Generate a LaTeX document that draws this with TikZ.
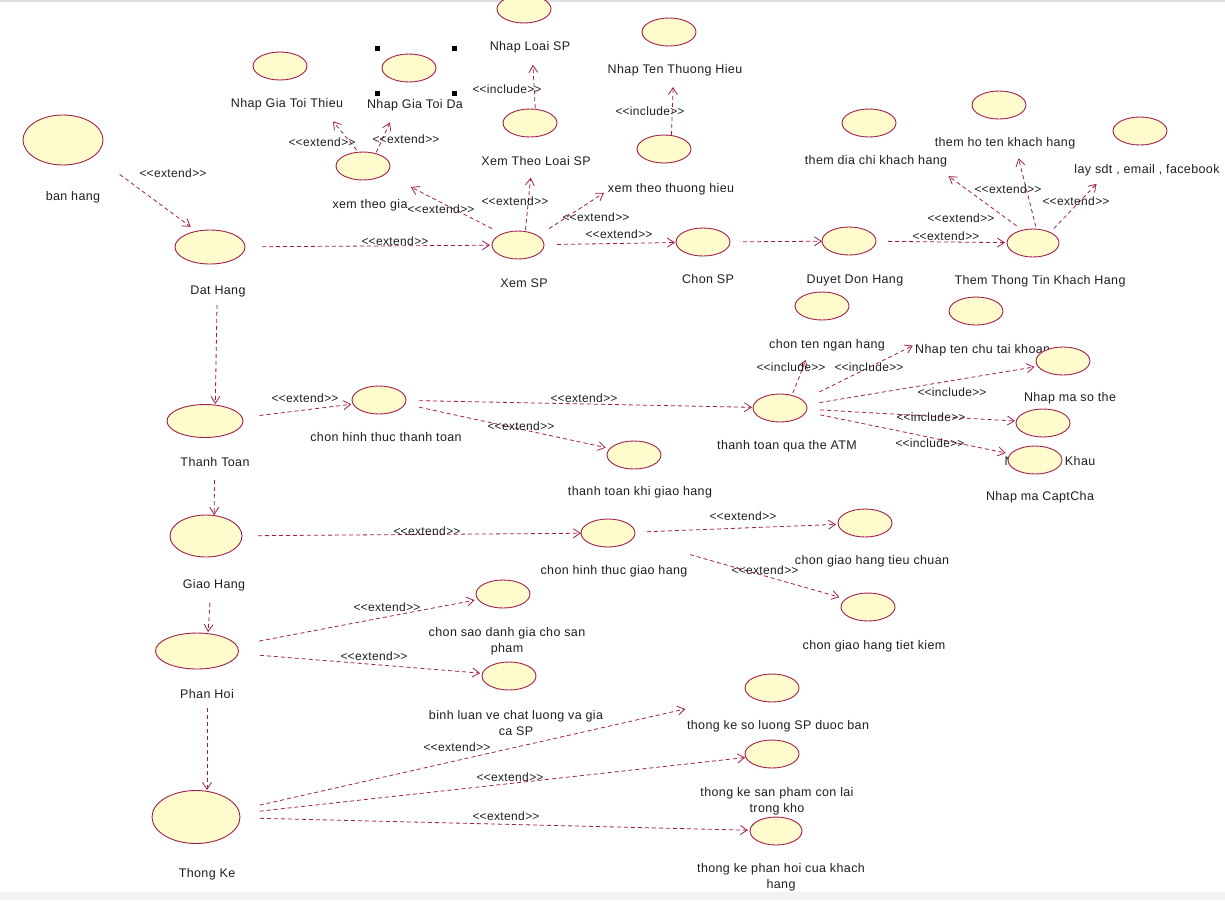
\documentclass[tikz,border=0pt]{standalone}
\usepackage{fontspec}
\setmainfont{Liberation Sans}[LetterSpace=3]
\usetikzlibrary{arrows.meta,shapes.geometric,backgrounds}
\definecolor{ucfill}{HTML}{FFFBCC}
\definecolor{ucline}{HTML}{A01E4C}
\definecolor{txt}{HTML}{1E1E1E}
% stereotype text, kerns keep the angle brackets from merging into guillemets
\newcommand\stereo[1]{<\kern0pt<#1>\kern0pt>}
\begin{document}
\begin{tikzpicture}[x=1pt,y=-1pt,
  uc/.style={ellipse, draw=ucline, fill=ucfill, line width=0.9pt,
    minimum width=54pt, minimum height=28pt, inner sep=0pt, outer sep=0pt},
  lbl/.style={font=\fontsize{12.5}{16}\selectfont, text=txt, inner sep=0pt, align=center},
  st/.style={font=\fontsize{12}{14}\selectfont, text=txt, inner sep=0pt},
  rel/.style={draw=ucline, line width=0.8pt, dash pattern=on 4pt off 3pt,
    -{Straight Barb[length=7pt,width=9pt]}},
  handle/.style={fill=black, minimum size=5pt, inner sep=0pt, outer sep=0pt}
]
\useasboundingbox (0,0) rectangle (1225,900);
\fill[black!12] (0,0) rectangle (1225,1.5);
\fill[black!5] (0,892) rectangle (1225,900);

% ---------- ordering ----------
\node[uc, minimum width=80pt, minimum height=50pt] (ban) at (63,140) {};
\node[lbl] (banL) at (73,197) {ban hang};
\node[uc, minimum width=70pt, minimum height=34pt] (dat) at (210,247) {};
\node[lbl] (datL) at (218,291) {Dat Hang};

% ---------- browsing products ----------
\node[uc] (ngtt) at (280,66) {};
\node[lbl] (ngttL) at (287,104) {Nhap Gia Toi Thieu};
\node[uc] (xtg) at (363,166) {};
\node[lbl] (xtgL) at (370,205) {xem theo gia};
\node[uc] (ngtd) at (409,68) {};
\node[lbl] (ngtdL) at (415,105) {Nhap Gia Toi Da};
\node[handle] (hd1) at (377,48) {};
\node[handle] (hd2) at (454,48) {};
\node[handle] (hd3) at (377,93) {};
\node[handle] (hd4) at (454,93) {};
\node[uc] (nls) at (524,9) {};
\node[lbl] (nlsL) at (530,47) {Nhap Loai SP};
\node[uc] (xtl) at (530,123) {};
\node[lbl] (xtlL) at (536,161) {Xem Theo Loai SP};
\node[uc] (ntth) at (669,32) {};
\node[lbl] (ntthL) at (675,70) {Nhap Ten Thuong Hieu};
\node[uc] (xtth) at (664,149) {};
\node[lbl] (xtthL) at (671,189) {xem theo thuong hieu};
\node[uc, minimum width=52pt] (xsp) at (518,245) {};
\node[lbl] (xspL) at (524,283) {Xem SP};
\node[uc] (csp) at (703,242) {};
\node[lbl] (cspL) at (708,279) {Chon SP};
\node[uc] (ddh) at (849,241) {};
\node[lbl] (ddhL) at (855,280) {Duyet Don Hang};
\node[uc, minimum width=52pt] (tttk) at (1033,243) {};
\node[lbl] (tttkL) at (1040,281) {Them Thong Tin Khach Hang};
\node[uc] (tdc) at (869,123) {};
\node[lbl] (tdcL) at (876,161) {them dia chi khach hang};
\node[uc] (tht) at (999,105) {};
\node[lbl] (thtL) at (1005,143) {them ho ten khach hang};
\node[uc] (lsdt) at (1140,131) {};
\node[lbl] (lsdtL) at (1147,170) {lay sdt , email , facebook};

% ---------- payment ----------
\node[uc, minimum width=76pt, minimum height=33pt] (tt) at (205,421) {};
\node[lbl] (ttL) at (215,462) {Thanh Toan};
\node[uc] (chtt) at (379,400) {};
\node[lbl] (chttL) at (386,437) {chon hinh thuc thanh toan};
\node[uc] (ttkgh) at (634,455) {};
\node[lbl] (ttkghL) at (640,492) {thanh toan khi giao hang};
\node[uc] (atm) at (780,408) {};
\node[lbl] (atmL) at (787,446) {thanh toan qua the ATM};
\node[uc] (ctnh) at (822,306) {};
\node[lbl] (ctnhL) at (827,345) {chon ten ngan hang};
\node[uc] (ntctk) at (976,311) {};
\node[lbl, anchor=west] (ntctkL) at (915,350) {Nhap ten chu tai khoan};
\node[uc] (nmst) at (1063,361) {};
\node[lbl] (nmstL) at (1070,398) {Nhap ma so the};
\node[uc] (nmk) at (1043,423) {};
\node[lbl] (nmkL) at (1050,462) {Nhap Mat Khau};
\node[uc] (nmc) at (1035,460) {};
\node[lbl] (nmcL) at (1040,497) {Nhap ma CaptCha};

% ---------- delivery ----------
\node[uc, minimum width=72pt, minimum height=42pt] (gh) at (206,536) {};
\node[lbl] (ghL) at (214,585) {Giao Hang};
\node[uc] (chgh) at (608,533) {};
\node[lbl] (chghL) at (614,571) {chon hinh thuc giao hang};
\node[uc] (ghtc) at (865,523) {};
\node[lbl] (ghtcL) at (872,561) {chon giao hang tieu chuan};
\node[uc] (ghtk) at (868,607) {};
\node[lbl] (ghtkL) at (874,646) {chon giao hang tiet kiem};

% ---------- feedback ----------
\node[uc, minimum width=83pt, minimum height=36pt] (ph) at (197,651) {};
\node[lbl] (phL) at (207,694) {Phan Hoi};
\node[uc] (csdg) at (503,594) {};
\node[lbl] (csdgL) at (507,641) {chon sao danh gia cho san\\pham};
\node[uc] (blcl) at (509,676) {};
\node[lbl] (blclL) at (516,723) {binh luan ve chat luong va gia\\ca SP};

% ---------- statistics ----------
\node[uc, minimum width=88pt, minimum height=53pt] (th) at (196,817) {};
\node[lbl] (thL) at (207,874) {Thong Ke};
\node[uc] (tksl) at (772,688) {};
\node[lbl] (tkslL) at (778,726) {thong ke so luong SP duoc ban};
\node[uc] (tksp) at (772,754) {};
\node[lbl] (tkspL) at (777,801) {thong ke san pham con lai\\trong kho};
\node[uc, minimum width=52pt] (tkph) at (776,831) {};
\node[lbl] (tkphL) at (781,877) {thong ke phan hoi cua khach\\hang};

% ---------- stereotype labels ----------
\node[st] (s1) at (173,173) {\stereo{extend}};
\node[st] (s2) at (395,241) {\stereo{extend}};
\node[st] (s3) at (515,201) {\stereo{extend}};
\node[st] (s4) at (441,209) {\stereo{extend}};
\node[st] (s5) at (596,217) {\stereo{extend}};
\node[st] (s6) at (619,234) {\stereo{extend}};
\node[st] (s7) at (946,236) {\stereo{extend}};
\node[st] (s8) at (961,218) {\stereo{extend}};
\node[st] (s9) at (1008,189) {\stereo{extend}};
\node[st] (s10) at (1076,201) {\stereo{extend}};
\node[st] (s11) at (322,142) {\stereo{extend}};
\node[st] (s12) at (406,139) {\stereo{extend}};
\node[st] (s13) at (507,89) {\stereo{include}};
\node[st] (s14) at (650,111) {\stereo{include}};
\node[st] (s15) at (305,398) {\stereo{extend}};
\node[st] (s16) at (584,398) {\stereo{extend}};
\node[st] (s17) at (521,426) {\stereo{extend}};
\node[st] (s18) at (791,367) {\stereo{include}};
\node[st] (s19) at (869,367) {\stereo{include}};
\node[st] (s20) at (952,392) {\stereo{include}};
\node[st] (s21) at (931,417) {\stereo{include}};
\node[st] (s22) at (930,443) {\stereo{include}};
\node[st] (s23) at (427,531) {\stereo{extend}};
\node[st] (s24) at (743,516) {\stereo{extend}};
\node[st] (s25) at (765,570) {\stereo{extend}};
\node[st] (s26) at (387,607) {\stereo{extend}};
\node[st] (s27) at (374,656) {\stereo{extend}};
\node[st] (s28) at (457,747) {\stereo{extend}};
\node[st] (s29) at (510,777) {\stereo{extend}};
\node[st] (s30) at (506,816) {\stereo{extend}};

% ---------- relationships (hub = label x, ellipse y) ----------
\begin{scope}[on background layer]
\draw[rel, shorten <=58pt, shorten >=34pt] (banL |- ban) -- (datL |- dat);
\draw[rel, shorten <=44pt, shorten >=34pt] (datL |- dat) -- (xspL |- xsp);
\draw[rel, shorten <=15pt, shorten >=55pt] (xspL |- xsp) -- (xtlL |- xtl);
\draw[rel, shorten <=36pt, shorten >=46pt] (xspL |- xsp) -- (xtgL |- xtg);
\draw[rel, shorten <=30pt, shorten >=80pt] (xspL |- xsp) -- (xtthL |- xtth);
\draw[rel, shorten <=33pt, shorten >=33pt] (xspL |- xsp) -- (cspL |- csp);
\draw[rel, shorten <=35pt, shorten >=33pt] (cspL |- csp) -- (ddhL |- ddh);
\draw[rel, shorten <=33pt, shorten >=35pt] (ddhL |- ddh) -- (tttkL |- tttk);
\draw[rel, shorten <=29pt, shorten >=90pt] (tttkL |- tttk) -- (tdcL |- tdc);
\draw[rel, shorten <=17pt, shorten >=55pt] (tttkL |- tttk) -- (thtL |- tht);
\draw[rel, shorten <=20pt, shorten >=73pt] (tttkL |- tttk) -- (lsdtL |- lsdt);
\draw[rel, shorten <=21pt, shorten >=72pt] (xtgL |- xtg) -- (ngttL |- ngtt);
\draw[rel, shorten <=15pt, shorten >=60pt] (xtgL |- xtg) -- (ngtdL |- ngtd);
\draw[rel, shorten <=15pt, shorten >=56pt] (xtlL |- xtl) -- (nlsL |- nls);
\draw[rel, shorten <=14pt, shorten >=55pt] (xtthL |- xtth) -- (ntthL |- ntth);

\draw[rel, shorten <=58pt, shorten >=17pt] (datL |- dat) -- (ttL |- tt);
\draw[rel, shorten <=59pt, shorten >=21pt] (ttL |- tt) -- (ghL |- gh);
\draw[rel, shorten <=67pt, shorten >=19pt] (ghL |- gh) -- (phL |- ph);
\draw[rel, shorten <=57pt, shorten >=27pt] (phL |- ph) -- (thL |- th);

\draw[rel, shorten <=45pt, shorten >=35pt] (ttL |- tt) -- (chttL |- chtt);
\draw[rel, shorten <=33pt, shorten >=35pt] (chttL |- chtt) -- (atmL |- atm);
\draw[rel, shorten <=34pt, shorten >=35pt] (chttL |- chtt) -- (ttkghL |- ttkgh);
\draw[rel, shorten <=16pt, shorten >=58pt] (atmL |- atm) -- (ctnhL |- ctnh);
\draw[rel, shorten <=36pt, shorten >=78pt] (atmL |- atm) -- (ntctkL |- ntctk);
\draw[rel, shorten <=33pt, shorten >=36pt] (atmL |- atm) -- (nmstL |- nmst);
\draw[rel, shorten <=33pt, shorten >=35pt] (atmL |- atm) -- (nmkL |- nmk);
\draw[rel, shorten <=34pt, shorten >=35pt] (atmL |- atm) -- (nmcL |- nmc);

\draw[rel, shorten <=44pt, shorten >=33pt] (ghL |- gh) -- (chghL |- chgh);
\draw[rel, shorten <=33pt, shorten >=36pt] (chghL |- chgh) -- (ghtcL |- ghtc);
\draw[rel, shorten <=79pt, shorten >=36pt] (chghL |- chgh) -- (ghtkL |- ghtk);

\draw[rel, shorten <=53pt, shorten >=33pt] (phL |- ph) -- (csdgL |- csdg);
\draw[rel, shorten <=53pt, shorten >=36pt] (phL |- ph) -- (blclL |- blcl);

\draw[rel, shorten <=54pt, shorten >=95pt] (thL |- th) -- (tkslL |- tksl);
\draw[rel, shorten <=53pt, shorten >=32pt] (thL |- th) -- (tkspL |- tksp);
\draw[rel, shorten <=53pt, shorten >=33pt] (thL |- th) -- (tkphL |- tkph);
\end{scope}
\end{tikzpicture}
\end{document}
